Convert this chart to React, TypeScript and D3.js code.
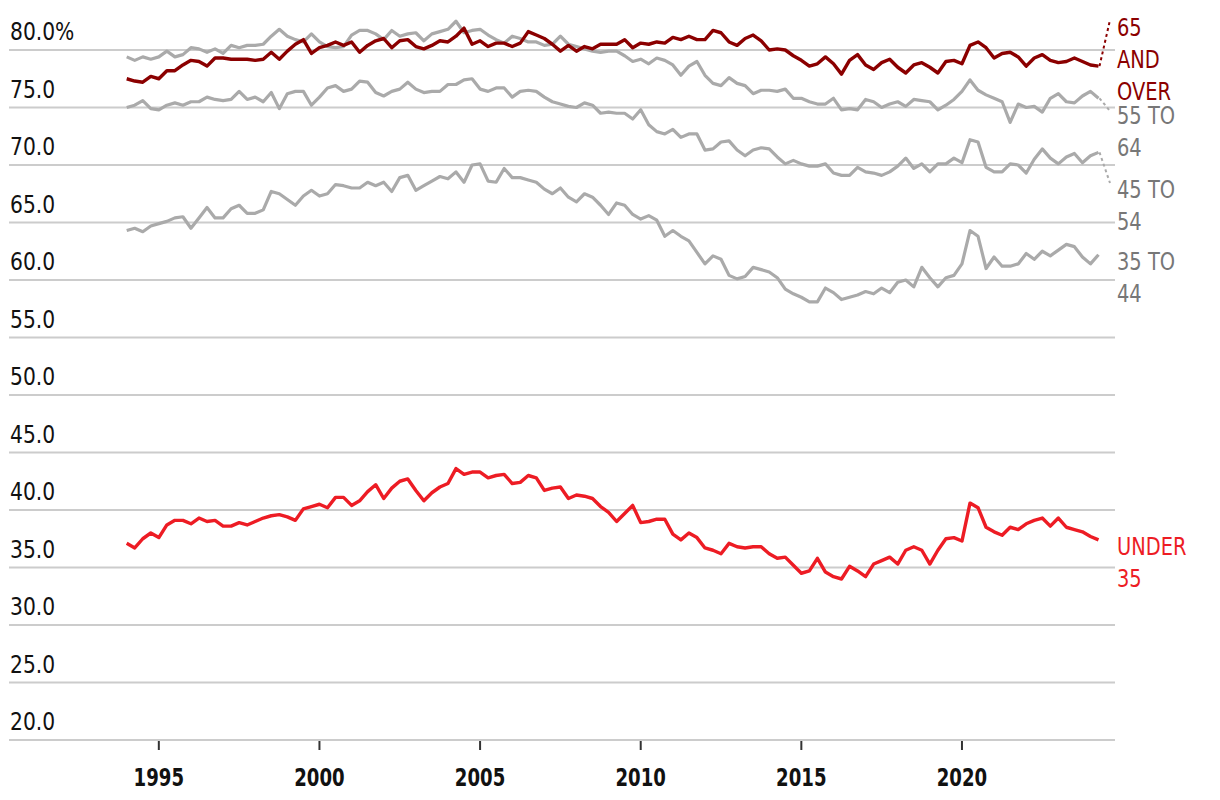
import React from "react";
import * as d3 from "d3";

const START_YEAR = 1994;
const yTicks = [20, 25, 30, 35, 40, 45, 50, 55, 60, 65, 70, 75, 80];
const xTicks = [1995, 2000, 2005, 2010, 2015, 2020];

const under35 = [37.1,36.7,37.5,38.0,37.6,38.7,39.1,39.1,38.8,39.3,39.0,39.1,38.6,38.6,38.9,38.7,39.0,39.3,39.5,39.6,39.4,39.1,40.1,40.3,40.5,40.2,41.1,41.1,40.4,40.8,41.6,42.2,41.0,41.9,42.5,42.7,41.7,40.8,41.5,42.0,42.3,43.6,43.1,43.3,43.3,42.8,43.0,43.1,42.3,42.4,43.0,42.8,41.7,41.9,42.0,41.0,41.3,41.2,41.0,40.3,39.8,39.0,39.7,40.4,38.9,39.0,39.2,39.2,37.9,37.4,38.0,37.6,36.7,36.5,36.2,37.1,36.8,36.7,36.8,36.8,36.2,35.8,35.9,35.2,34.5,34.7,35.8,34.6,34.2,34.0,35.1,34.7,34.2,35.3,35.6,35.9,35.3,36.5,36.8,36.5,35.3,36.5,37.5,37.6,37.3,40.6,40.2,38.5,38.1,37.8,38.5,38.3,38.8,39.1,39.3,38.6,39.3,38.5,38.3,38.1,37.7,37.4];

const age35to44 = [64.3,64.5,64.2,64.7,64.9,65.1,65.4,65.5,64.5,65.4,66.3,65.4,65.4,66.2,66.5,65.8,65.8,66.1,67.7,67.5,67.0,66.5,67.3,67.8,67.3,67.5,68.3,68.2,68.0,68.0,68.5,68.2,68.5,67.7,68.9,69.1,67.8,68.2,68.6,69.0,68.8,69.4,68.5,70.0,70.1,68.6,68.5,69.7,68.9,68.9,68.7,68.5,67.9,67.5,68.0,67.2,66.8,67.5,67.2,66.5,65.7,66.7,66.5,65.7,65.3,65.6,65.2,63.8,64.3,63.8,63.4,62.4,61.4,62.1,61.8,60.4,60.1,60.3,61.1,60.9,60.7,60.2,59.2,58.8,58.5,58.1,58.1,59.3,58.9,58.3,58.5,58.7,59.0,58.8,59.3,58.9,59.8,60.0,59.4,61.1,60.2,59.4,60.2,60.4,61.4,64.3,63.8,61.0,62.0,61.2,61.2,61.4,62.3,61.8,62.5,62.1,62.6,63.1,62.9,62.0,61.4,62.2];

const age45to54 = [75.0,75.2,75.6,74.9,74.8,75.2,75.4,75.2,75.5,75.5,75.9,75.7,75.6,75.7,76.4,75.7,75.9,75.5,76.3,74.9,76.2,76.4,76.4,75.2,75.9,76.7,76.9,76.4,76.6,77.3,77.2,76.3,76.0,76.4,76.6,77.2,76.6,76.3,76.4,76.4,77.0,77.0,77.4,77.5,76.6,76.4,76.7,76.7,75.9,76.4,76.5,76.4,75.9,75.5,75.3,75.1,75.0,75.4,75.2,74.5,74.6,74.5,74.5,74.0,74.8,73.5,72.9,72.7,73.1,72.4,72.7,72.7,71.3,71.4,72.0,72.1,71.3,70.8,71.3,71.5,71.4,70.7,70.1,70.4,70.1,69.9,69.9,70.1,69.3,69.1,69.1,69.8,69.4,69.3,69.1,69.4,69.9,70.6,69.7,70.1,69.4,70.1,70.1,70.6,70.2,72.2,72.0,69.8,69.4,69.4,70.1,70.0,69.3,70.5,71.4,70.6,70.1,70.7,71.0,70.2,70.8,71.1];

const age55to64 = [79.4,79.1,79.4,79.2,79.4,79.9,79.4,79.6,80.2,80.1,79.8,80.1,79.7,80.4,80.2,80.4,80.4,80.5,81.2,81.8,81.2,80.9,80.7,81.4,80.7,80.3,80.2,80.3,81.3,81.7,81.7,81.4,80.9,81.7,81.2,81.4,81.5,80.8,81.4,81.6,81.8,82.5,81.5,81.7,81.8,81.3,80.9,80.6,81.2,81.0,80.7,80.7,80.4,80.5,81.2,80.5,80.3,80.1,79.9,79.8,79.9,79.9,79.5,79.0,79.2,78.8,79.3,79.1,78.7,77.8,78.6,79.0,77.8,77.1,76.9,77.6,77.1,76.9,76.2,76.5,76.5,76.4,76.6,75.8,75.8,75.5,75.3,75.3,75.8,74.8,74.9,74.8,75.7,75.5,75.0,75.3,75.5,75.1,75.7,75.6,75.5,74.8,75.2,75.7,76.4,77.4,76.5,76.1,75.8,75.5,73.7,75.3,75.0,75.1,74.6,75.8,76.2,75.5,75.4,76.0,76.4,75.8];

const age65plus = [77.5,77.3,77.2,77.7,77.5,78.2,78.2,78.7,79.1,79.0,78.6,79.3,79.3,79.2,79.2,79.2,79.1,79.2,79.8,79.2,79.9,80.5,80.9,79.7,80.2,80.4,80.7,80.4,80.7,79.8,80.4,80.8,81.0,80.2,80.8,80.9,80.3,80.1,80.4,80.8,80.7,81.2,81.9,80.5,80.8,80.3,80.6,80.6,80.3,80.6,81.6,81.3,81.0,80.5,79.9,80.4,79.9,80.3,80.1,80.5,80.5,80.5,80.9,80.2,80.6,80.5,80.7,80.6,81.1,80.9,81.2,80.9,80.9,81.7,81.5,80.7,80.4,81.0,81.3,80.8,80.0,80.1,80.0,79.5,79.1,78.6,78.8,79.4,78.8,77.9,79.1,79.6,78.7,78.3,78.9,79.2,78.5,78.0,78.7,78.9,78.5,78.0,79.0,79.1,78.8,80.4,80.7,80.2,79.3,79.7,79.8,79.4,78.6,79.3,79.6,79.1,78.9,79.0,79.3,79.0,78.7,78.6];

const seriesLabels = [
  ["65", "AND", "OVER"],
  ["55 TO", "64"],
  ["45 TO", "54"],
  ["35 TO", "44"],
  ["UNDER", "35"],
];

const FONT = "'DejaVu Sans Condensed', 'Liberation Sans', sans-serif";
const GREY = "#aaaaaa";
const LABEL_GREY = "#777777";
const DARKRED = "#8b0000";
const RED = "#ed1c24";

function SText(props: {
  x: number;
  y: number;
  sx: number;
  size: number;
  fill: string;
  anchor?: string;
  weight?: string;
  children: React.ReactNode;
}) {
  return (
    <text
      transform={`translate(${props.x},${props.y}) scale(${props.sx},1)`}
      textAnchor={props.anchor || "start"}
      fontFamily={FONT}
      fontWeight={props.weight || "normal"}
      fontSize={props.size}
      fill={props.fill}
    >
      {props.children}
    </text>
  );
}

export default function App() {
  const W = 1220, H = 800;
  const nQ = under35.length;
  const endYear = START_YEAR + (nQ - 1) / 4;
  const x = d3.scaleLinear().domain([START_YEAR, endYear]).range([126.7, 1098.5]);
  const y = d3.scaleLinear().domain([20, 80]).range([740, 50]);
  const line = d3
    .line<number>()
    .x((_, i) => x(START_YEAR + i / 4))
    .y((d) => y(d));

  const series = [
    { vals: age35to44, color: GREY, w: 3.2 },
    { vals: age45to54, color: GREY, w: 3.2 },
    { vals: age55to64, color: GREY, w: 3.2 },
    { vals: age65plus, color: DARKRED, w: 3.4 },
    { vals: under35, color: RED, w: 3.4 },
  ];

  const endX = x(endYear);
  const labelX = 1117;
  const labels = [
    { lines: seriesLabels[0], color: DARKRED, lc: DARKRED, baseline: 36, leader: { v: age65plus[nQ - 1], ty: 20 } },
    { lines: seriesLabels[1], color: LABEL_GREY, lc: GREY, baseline: 124, leader: { v: age55to64[nQ - 1], ty: 111 } },
    { lines: seriesLabels[2], color: LABEL_GREY, lc: GREY, baseline: 198, leader: { v: age45to54[nQ - 1], ty: 183 } },
    { lines: seriesLabels[3], color: LABEL_GREY, lc: GREY, baseline: 270, leader: null },
    { lines: seriesLabels[4], color: RED, lc: RED, baseline: 555, leader: null },
  ];

  return (
    <svg width={W} height={H} style={{ position: "absolute", left: 0, top: 0, background: "#fff" }}>
      {yTicks.map((t) => (
        <g key={t}>
          <line x1={9} x2={1115} y1={y(t)} y2={y(t)} stroke="#cccccc" strokeWidth={2} />
          <SText x={10} y={y(t) - 10} sx={0.92} size={24.5} fill="#111">
            {t === 80 ? "80.0%" : t.toFixed(1)}
          </SText>
        </g>
      ))}
      {xTicks.map((t) => (
        <g key={t}>
          <line x1={x(t)} x2={x(t)} y1={y(20) + 1} y2={y(20) + 10} stroke="#333" strokeWidth={2} />
          <SText x={x(t)} y={786} sx={0.84} size={24} weight="bold" fill="#111" anchor="middle">
            {t}
          </SText>
        </g>
      ))}
      {series.map((s, i) => (
        <path key={i} d={line(s.vals) || ""} fill="none" stroke={s.color} strokeWidth={s.w} strokeLinejoin="round" />
      ))}
      {labels.map((l, i) => (
        <g key={i}>
          {l.leader && (
            <line
              x1={endX + 1}
              y1={y(l.leader.v)}
              x2={1110}
              y2={l.leader.ty}
              stroke={l.lc}
              strokeWidth={2}
              strokeDasharray="3,3"
            />
          )}
          {l.lines.map((t, j) => (
            <SText key={j} x={labelX} y={l.baseline + j * 32} sx={0.9} size={24} fill={l.color}>
              {t}
            </SText>
          ))}
        </g>
      ))}
    </svg>
  );
}
